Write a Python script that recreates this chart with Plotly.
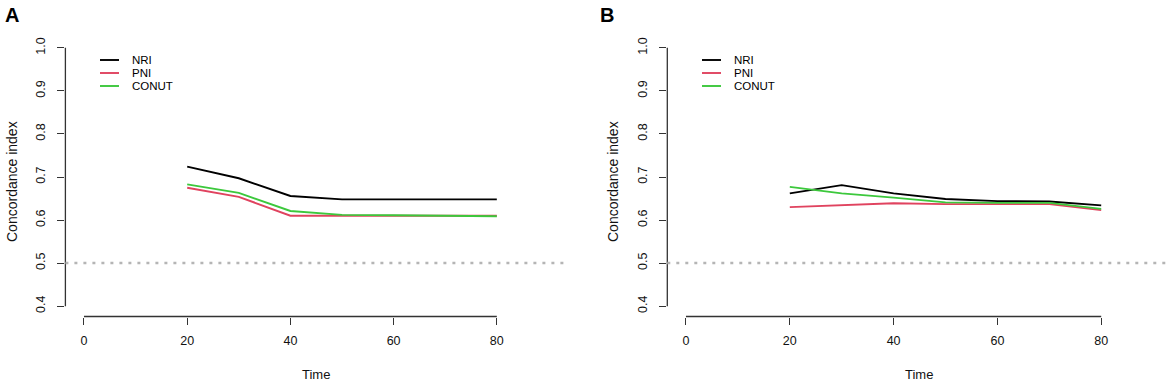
import plotly.graph_objects as go

# ---- data ----
time_pts = [20, 30, 40, 50, 60, 70, 80]
a_nri = [0.724, 0.697, 0.656, 0.648, 0.648, 0.648, 0.648]
a_pni = [0.675, 0.654, 0.610, 0.610, 0.610, 0.610, 0.610]
a_conut = [0.683, 0.663, 0.621, 0.612, 0.611, 0.610, 0.609]
b_nri = [0.662, 0.681, 0.662, 0.649, 0.644, 0.643, 0.634]
b_pni = [0.630, 0.634, 0.639, 0.637, 0.637, 0.637, 0.623]
b_conut = [0.677, 0.662, 0.652, 0.641, 0.640, 0.640, 0.626]
series_names = ["NRI", "PNI", "CONUT"]
series_colors = ["#000000", "#E0435F", "#3CC83C"]
x_ticks = [0, 20, 40, 60, 80]
y_ticks = [0.4, 0.5, 0.6, 0.7, 0.8, 0.9, 1.0]
ref_line = 0.5

W, H = 1170, 384
FONT = "Liberation Sans, Arial, sans-serif"

fig = go.Figure()

panels = [
    ("x", "y", [a_nri, a_pni, a_conut]),
    ("x2", "y2", [b_nri, b_pni, b_conut]),
]
for xa, ya, vals in panels:
    for name, col, v in zip(series_names, series_colors, vals):
        fig.add_trace(go.Scatter(x=time_pts, y=v, mode="lines", name=name,
                                 line=dict(color=col, width=1.9),
                                 xaxis=xa, yaxis=ya, showlegend=False))

def px(x):
    return x / W

def py(y):
    return 1 - y / H

ydom = [py(316.5), py(37.5)]
axis_common = dict(showgrid=False, zeroline=False, showline=False,
                   ticks="outside", ticklen=7, tickwidth=1.3, tickcolor="#333333",
                   tickfont=dict(family=FONT, size=12.5, color="#111111"))

fig.update_layout(
    width=W, height=H, autosize=False,
    margin=dict(l=0, r=0, t=0, b=0),
    paper_bgcolor="white", plot_bgcolor="white",
    xaxis=dict(domain=[px(65.4), px(567)], range=[-3.6, 93.6],
               tickvals=x_ticks, anchor="y", ticklabelstandoff=5, **axis_common),
    yaxis=dict(domain=ydom, range=[0.376, 1.024], tickvals=y_ticks,
               ticktext=[f"{v:.1f}" for v in y_ticks], tickangle=-90,
               ticklabelstandoff=7, anchor="x", **axis_common),
    xaxis2=dict(domain=[px(667.3), 1.0], range=[-3.6, (W - 686) / 5.19],
                tickvals=x_ticks, anchor="y2", ticklabelstandoff=5, **axis_common),
    yaxis2=dict(domain=ydom, range=[0.376, 1.024], tickvals=y_ticks,
                ticktext=[f"{v:.1f}" for v in y_ticks], tickangle=-90,
                ticklabelstandoff=7, anchor="x2", **axis_common),
)

shapes = []
annotations = []
for xa, ya, label, lab_x, leg_x in [("x", "y", "A", 3, 100), ("x2", "y2", "B", 598, 702)]:
    # axis lines (R style, only spanning tick range)
    shapes.append(dict(type="line", xref=f"{xa} domain", yref=ya, x0=0, x1=0,
                       y0=y_ticks[0], y1=y_ticks[-1], line=dict(color="#333333", width=1.3)))
    shapes.append(dict(type="line", xref=xa, yref=f"{ya} domain", x0=x_ticks[0], x1=x_ticks[-1],
                       y0=0, y1=0, line=dict(color="#333333", width=1.3)))
    # reference line
    shapes.append(dict(type="line", xref=f"{xa} domain", yref=ya, x0=0, x1=1,
                       y0=ref_line, y1=ref_line,
                       line=dict(color="#b5b5b5", width=2.5, dash="3px,6px")))
    # legend
    for i, (name, col) in enumerate(zip(series_names, series_colors)):
        yy = 60 + 13 * i
        shapes.append(dict(type="line", xref="paper", yref="paper",
                           x0=px(leg_x), x1=px(leg_x + 19), y0=py(yy), y1=py(yy),
                           line=dict(color=col, width=1.9)))
        annotations.append(dict(xref="paper", yref="paper", x=px(leg_x + 30), y=py(yy),
                                text=name, showarrow=False, xanchor="left", yanchor="middle",
                                font=dict(family=FONT, size=11.5, color="#000000")))
    # panel label
    annotations.append(dict(xref="paper", yref="paper", x=px(lab_x), y=py(15),
                            text=f"<b>{label}</b>", showarrow=False, xanchor="left",
                            yanchor="middle", font=dict(family=FONT, size=20, color="#000000")))
    # axis titles
    annotations.append(dict(xref=f"{xa} domain", yref="paper", x=0.5, y=py(374),
                            text="Time", showarrow=False, xanchor="center", yanchor="middle",
                            font=dict(family=FONT, size=13, color="#111111")))

for tx in (12, 613):
    annotations.append(dict(xref="paper", yref="paper", x=px(tx), y=py(182),
                            text="Concordance index", showarrow=False, textangle=-90,
                            xanchor="center", yanchor="middle",
                            font=dict(family=FONT, size=14, color="#111111")))

fig.update_layout(shapes=shapes, annotations=annotations)
fig.write_html("out.html", config={"displayModeBar": False},
               post_script="document.body.style.margin='0px';document.body.style.overflow='hidden';")
